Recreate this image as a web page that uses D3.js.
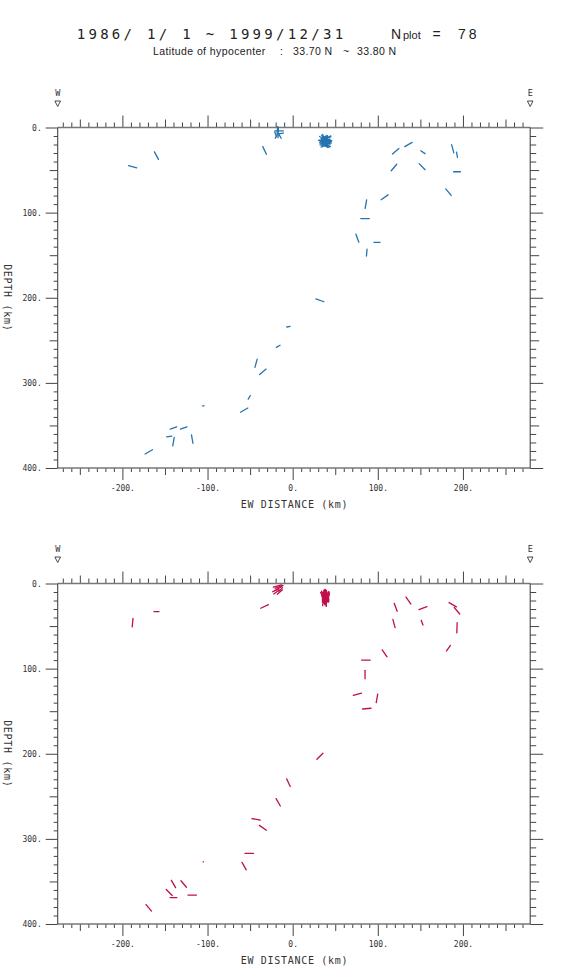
<!DOCTYPE html>
<html>
<head>
<meta charset="utf-8">
<title>Hypocenter EW cross section</title>
<script src="https://d3js.org/d3.v7.min.js"></script>
<style>
  body { margin: 0; background: #fff; }
</style>
</head>
<body>
<div id="chart"></div>
<script>
// event positions: EW distance (km) and depth (km)
var eventX = [-188, -160, -33, 121, 136, 153, 188, 193, 119, 152,
  193, 108, 86, 85, 76, 99, 87, 183, 32, -5,
  -17, -43, -35, -51, -57, -105, -140, -128, -145, -140,
  -118, -169,
  -17, -16, -19, -15, -18, -14, -20,
  36, 38, 40, 37, 39, 41, 35, 38, 40, 42, 36, 39, 37, 41, 38, 35, 40, 39, 37, 42,
  36, 38, 41, 39, 37, 40, 38, 36, 39, 41, 37, 40, 38, 35, 39, 42, 36, 38, 40];
var eventDepth = [46, 33, 27, 28, 20, 29, 25, 32, 47, 46,
  52, 82, 90, 107, 130, 135, 147, 76, 203, 234,
  257, 277, 287, 317, 332, 327, 353, 353, 363, 369,
  366, 381,
  6, 4, 10, 10, 3, 7, 8,
  13, 14, 15, 16, 17, 14, 15, 18, 12, 16, 19, 13, 20, 18, 16, 17, 19, 15, 14, 15,
  12, 21, 17, 11, 18, 20, 13, 16, 22, 13, 15, 17, 19, 14, 16, 18, 21, 12, 16];

// projected axis of each event on the section: angle (deg, + rises to the east), half length (km)
var upperAngle = [-15, -62, -65, 40, 30, -35, -75, -80, 50, -45,
  0, 35, 80, 0, -70, 0, 85, -50, -20, 10,
  30, 75, 40, 60, 30, 0, 20, 20, 10, 80,
  -80, 30,
  88, 0, 60, -60, 85, 10, -70,
  -30, -45, 20, -60, 0, -20, 35, -50, 10, -35, -10, 60, -40, 15, -70, -25, 5, -55, 45, -15,
  -80, 25, -45, -5, 30, -30, 70, -50, -20, 40, -65, 0, -40, 15, -25, 50, -10, -35, 80];
var upperLen = [5, 5, 5, 5, 5, 3, 5, 3, 5, 5,
  4, 5, 5, 5, 5, 3.5, 4, 5, 5, 2,
  2.5, 5, 5, 2.5, 5, 1, 4, 4, 3, 5,
  5, 5,
  6, 5, 3, 3, 4, 3, 3,
  5, 4, 4, 5, 4, 5, 4, 4, 5, 4, 4, 4, 5, 4, 4, 5, 4, 4, 5, 4,
  4, 5, 4, 4, 4, 5, 4, 4, 4, 5, 4, 4, 5, 4, 5, 4, 4, 5, 4];
var lowerAngle = [85, 0, 25, -70, -55, 20, -30, -50, -75, -70,
  88, -55, 0, 90, 15, 80, 5, 55, 45, -65,
  -60, -10, -35, 0, -60, 0, -60, -50, -45, 0,
  0, -50,
  30, 20, 35, 40, 15, 45, 25,
  80, 100, 70, 110, 90, 65, 115, 85, 95, 75, 105, 88, 98, 72, 108, 90, 80, 100, 85, 95,
  70, 110, 82, 98, 90, 75, 105, 85, 95, 68, 112, 90, 78, 102, 86, 94, 80, 100, 90];
var lowerLen = [5, 3, 5, 5, 5, 5, 5, 5, 5, 3,
  6, 5, 5, 5, 5, 5, 5, 4, 5, 5,
  5, 5, 5, 5, 5, 0.3, 5, 5, 5, 4,
  5, 5,
  5, 5, 4, 4, 5, 3, 4,
  5, 5, 4, 5, 5, 4, 5, 5, 4, 5, 5, 4, 5, 5, 4, 5, 5, 4, 5, 5,
  4, 5, 5, 4, 5, 5, 4, 5, 5, 4, 5, 5, 4, 5, 5, 4, 5, 5, 4];

var xTicks = d3.range(-270, 280, 10);
var depthTicks = d3.range(0, 410, 10);
var xLabels = [-200, -100, 0, 100, 200];
var depthLabels = [0, 100, 200, 300, 400];

var svg = d3.select("#chart").append("svg")
  .attr("width", 569)
  .attr("height", 979)
  .style("background", "#fff");

var x = d3.scaleLinear().domain([-276, 279]).range([57.7, 530.2]);
var y = d3.scaleLinear().domain([0, 400]).range([127.5, 468]);

var mono = "'DejaVu Sans Mono', monospace";
var sans = "'Liberation Sans', Arial, sans-serif";

// title
svg.append("text")
  .attr("x", 76.7).attr("y", 39)
  .attr("font-family", mono).attr("font-size", 14)
  .attr("letter-spacing", 3.3).attr("fill", "#222")
  .attr("xml:space", "preserve")
  .text("1986/ 1/ 1 ~ 1999/12/31");
svg.append("text").attr("x", 391).attr("y", 39)
  .attr("font-family", sans).attr("font-size", 14).attr("fill", "#222").text("N");
svg.append("text").attr("x", 403).attr("y", 39)
  .attr("font-family", sans).attr("font-size", 11).attr("fill", "#222").text("plot");
svg.append("text").attr("x", 436.7).attr("y", 39).attr("text-anchor", "middle")
  .attr("font-family", sans).attr("font-size", 14).attr("fill", "#222").text("=");
svg.append("text").attr("x", 458).attr("y", 39)
  .attr("font-family", sans).attr("font-size", 14).attr("letter-spacing", 3)
  .attr("fill", "#222").text("78");

var sub = [
  { t: "Latitude of hypocenter", x: 153 },
  { t: ":", x: 280 },
  { t: "33.70 N", x: 293 },
  { t: "~", x: 343 },
  { t: "33.80 N", x: 357 }
];
svg.selectAll("text.sub").data(sub).enter().append("text")
  .attr("class", "sub")
  .attr("x", function(d) { return d.x; })
  .attr("y", 55)
  .attr("font-family", sans).attr("font-size", 10.5)
  .attr("letter-spacing", 0.4).attr("fill", "#222")
  .text(function(d) { return d.t; });

function isMajor(v) { return v % 100 === 0; }
function isMid(v) { return v % 50 === 0 && v % 100 !== 0; }
function isMinor(v) { return v % 50 !== 0; }

function drawPanel(g, angles, lens, color) {
  var kinds = [
    { pick: isMinor, top: 5, bottom: 4, left: 4, right: 6 },
    { pick: isMid, top: 8, bottom: 7, left: 8, right: 9 },
    { pick: isMajor, top: 12, bottom: 12, left: 12, right: 13 }
  ];
  kinds.forEach(function(k) {
    var xv = xTicks.filter(k.pick);
    var yv = depthTicks.filter(k.pick);
    var major = k.pick === isMajor;

    g.append("g").attr("class", "ax")
      .attr("transform", "translate(0," + y(0) + ")")
      .call(d3.axisTop(x).tickValues(xv).tickSize(k.top).tickSizeOuter(0).tickFormat(""));

    g.append("g").attr("class", "ax")
      .attr("transform", "translate(0," + y(400) + ")")
      .call(d3.axisBottom(x).tickValues(major ? xLabels : xv).tickSize(k.bottom)
        .tickSizeOuter(0).tickPadding(5)
        .tickFormat(major ? function(d) { return d + "."; } : ""));

    g.append("g").attr("class", "ax")
      .attr("transform", "translate(" + x(-276) + ",0)")
      .call(d3.axisLeft(y).tickValues(major ? depthLabels : yv).tickSize(k.left)
        .tickSizeOuter(0).tickPadding(4)
        .tickFormat(major ? function(d) { return d + "."; } : ""));

    g.append("g").attr("class", "ax")
      .attr("transform", "translate(" + x(279) + ",0)")
      .call(d3.axisRight(y).tickValues(yv).tickSize(k.right).tickSizeOuter(0).tickFormat(""));
  });

  g.selectAll(".ax .domain").remove();
  g.selectAll(".ax line").attr("stroke", "#444").attr("stroke-width", 1);
  g.selectAll(".ax text")
    .attr("font-family", mono).attr("font-size", 8).attr("fill", "#333");

  // frame
  var frame = [
    [x(-276), y(0), x(279), y(0), 1.6, "#777"],
    [x(-276), y(400), x(279), y(400), 1.6, "#777"],
    [x(-276), y(0), x(-276), y(400), 1.1, "#444"],
    [x(279), y(0), x(279), y(400), 1.1, "#444"]
  ];
  g.selectAll("line.frame").data(frame).enter().append("line")
    .attr("class", "frame")
    .attr("x1", function(d) { return d[0]; }).attr("y1", function(d) { return d[1]; })
    .attr("x2", function(d) { return d[2]; }).attr("y2", function(d) { return d[3]; })
    .attr("stroke-width", function(d) { return d[4]; })
    .attr("stroke", function(d) { return d[5]; });

  // W / E markers
  [["W", -276], ["E", 279]].forEach(function(m) {
    var cx = x(m[1]);
    g.append("text").attr("x", cx).attr("y", 96)
      .attr("text-anchor", "middle")
      .attr("font-family", mono).attr("font-size", 8.5).attr("fill", "#333")
      .text(m[0]);
    g.append("path")
      .attr("d", "M" + (cx - 2.8) + ",101 L" + (cx + 2.8) + ",101 L" + cx + ",106.5 Z")
      .attr("fill", "none").attr("stroke", "#333").attr("stroke-width", 0.9);
  });

  // axis titles
  g.append("text")
    .attr("x", (x(-276) + x(279)) / 2 + 0.5).attr("y", 508)
    .attr("text-anchor", "middle")
    .attr("font-family", mono).attr("font-size", 10).attr("letter-spacing", 0.7)
    .attr("fill", "#333").attr("xml:space", "preserve")
    .text("EW DISTANCE (km)");
  g.append("text")
    .attr("transform", "translate(4," + y(200) + ") rotate(90)")
    .attr("text-anchor", "middle")
    .attr("font-family", mono).attr("font-size", 10).attr("letter-spacing", 0.7)
    .attr("fill", "#333").attr("xml:space", "preserve")
    .text("DEPTH (km)");

  // events
  var rad = Math.PI / 180;
  g.selectAll("line.ev").data(d3.range(eventX.length)).enter().append("line")
    .attr("class", "ev")
    .attr("x1", function(i) { return x(eventX[i] - lens[i] * Math.cos(angles[i] * rad)); })
    .attr("y1", function(i) { return y(eventDepth[i] + lens[i] * Math.sin(angles[i] * rad)); })
    .attr("x2", function(i) { return x(eventX[i] + lens[i] * Math.cos(angles[i] * rad)); })
    .attr("y2", function(i) { return y(eventDepth[i] - lens[i] * Math.sin(angles[i] * rad)); })
    .attr("stroke", color)
    .attr("stroke-width", 1.3)
    .attr("stroke-linecap", "round");
}

drawPanel(svg.append("g"), upperAngle, upperLen, "#2474b0");
drawPanel(svg.append("g").attr("transform", "translate(0,456)"), lowerAngle, lowerLen, "#c0104a");
</script>
</body>
</html>
